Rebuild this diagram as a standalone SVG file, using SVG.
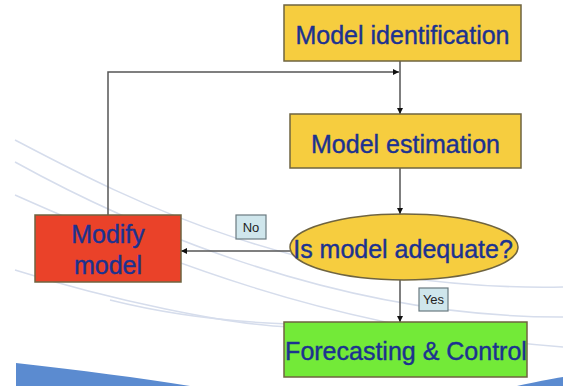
<svg xmlns="http://www.w3.org/2000/svg" width="563" height="386" viewBox="0 0 563 386">
<style>
.bg{fill:none;stroke:#d6ddec;stroke-width:1.5}
.box{stroke:#6f6440;stroke-width:1.5}
.yel{fill:#f6cd3f}
.t{font-family:"Liberation Sans",Arial,sans-serif;font-size:25px;fill:#1c3290;stroke:#1c3290;stroke-width:0.4;text-anchor:middle}
.lbl{fill:#cfe6ec;stroke:#6a7a80;stroke-width:1.2}
.lt{font-family:"Liberation Sans",Arial,sans-serif;font-size:13px;fill:#222;text-anchor:middle}
.c{fill:none;stroke:#555;stroke-width:1.5}
</style>
<defs>
<marker id="ah" viewBox="0 0 8 8" refX="8" refY="4" markerWidth="6" markerHeight="6" markerUnits="userSpaceOnUse" orient="auto">
<path d="M0,0 L8,4 L0,8 z" fill="#111"/>
</marker>
</defs>
<rect width="563" height="386" fill="#fff"/>
<g id="background">
<path class="bg" d="M15,140 C120,195 300,292 563,287"/>
<path class="bg" d="M15,162 C120,220 330,318 563,317"/>
<path class="bg" d="M15,195 C150,255 330,330 563,347"/>
<path class="bg" d="M15,270 C110,300 230,325 290,327"/>
<path class="bg" d="M110,300 C170,315 230,322 290,324"/>
<path d="M16,363 C80,370 140,378 190,386 L16,386 z" fill="#5b8bd0"/>
<path d="M517,386 C535,382 550,379 563,377 L563,386 z" fill="#5b8bd0"/>
</g>
<g id="connectors">
<path class="c" d="M400,61 V114" marker-end="url(#ah)"/>
<path class="c" d="M108,215 V72 H399" marker-end="url(#ah)"/>
<path class="c" d="M400,168 V214" marker-end="url(#ah)"/>
<path class="c" d="M290,251 H181" marker-end="url(#ah)"/>
<path class="c" d="M400,280 V322" marker-end="url(#ah)"/>
</g>
<g id="model-identification">
<rect class="box yel" x="284" y="5" width="237" height="56"/>
<text class="t" x="402.5" y="44">Model identification</text>
</g>
<g id="model-estimation">
<rect class="box yel" x="290" y="114" width="231" height="54"/>
<text class="t" x="405.5" y="153">Model estimation</text>
</g>
<g id="is-model-adequate">
<ellipse class="box yel" cx="404" cy="247" rx="114" ry="33"/>
<text class="t" x="403" y="258">Is model adequate?</text>
</g>
<g id="modify-model">
<rect class="box" x="35" y="215" width="146" height="67" fill="#ea4229"/>
<text class="t" x="108" y="243">Modify</text>
<text class="t" x="108" y="274">model</text>
</g>
<g id="forecasting-control">
<rect class="box" x="284" y="322" width="243" height="55" fill="#73ea38"/>
<text class="t" x="406" y="360">Forecasting &amp; Control</text>
</g>
<g id="label-no">
<rect class="lbl" x="236" y="215" width="30" height="24"/>
<text class="lt" x="251" y="232">No</text>
</g>
<g id="label-yes">
<rect class="lbl" x="419" y="288" width="29" height="23"/>
<text class="lt" x="433.5" y="304">Yes</text>
</g>
</svg>
